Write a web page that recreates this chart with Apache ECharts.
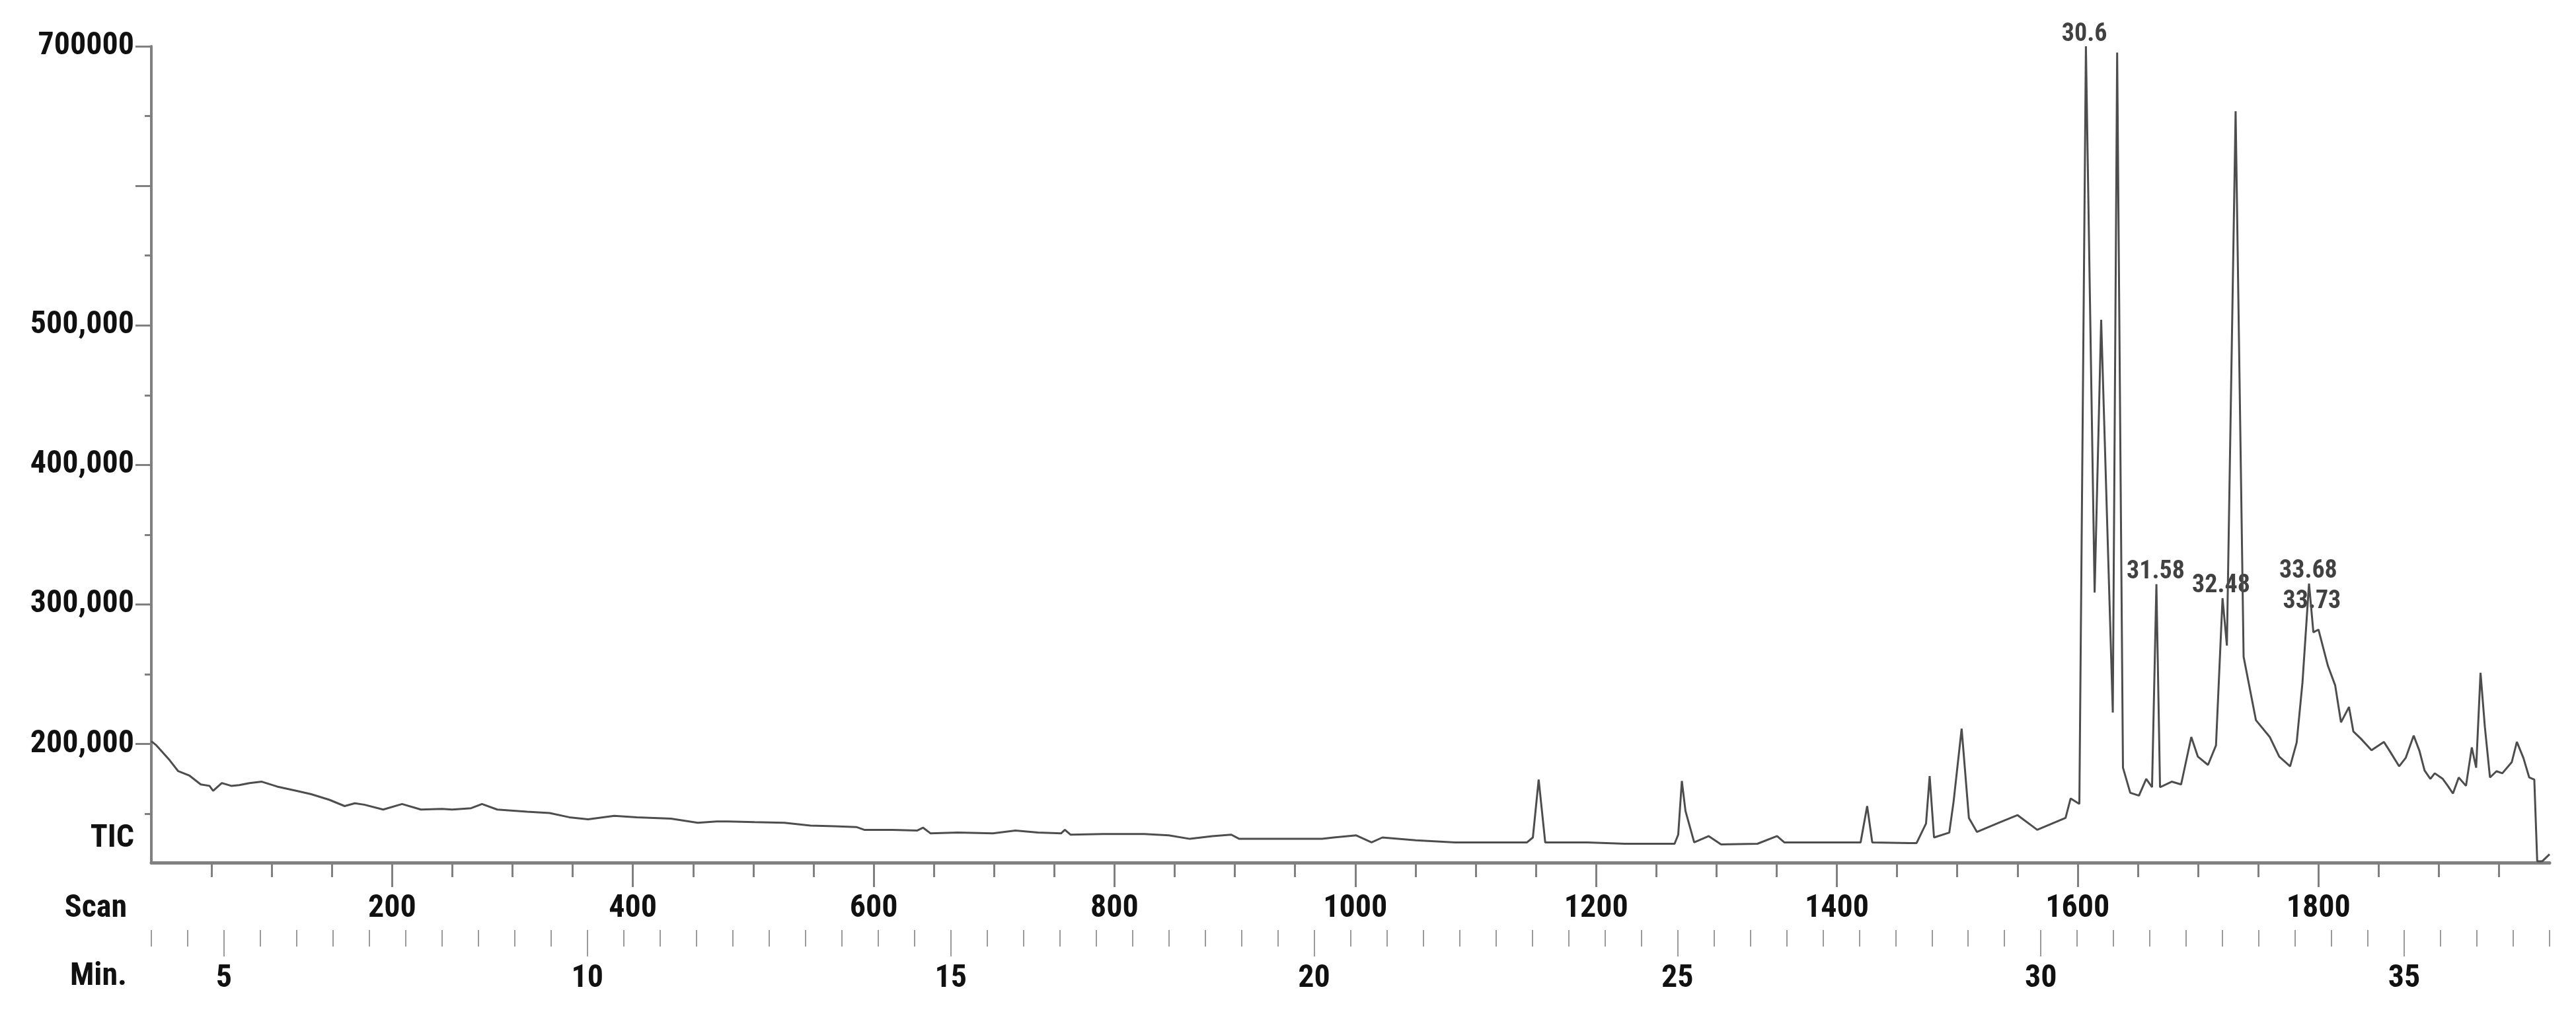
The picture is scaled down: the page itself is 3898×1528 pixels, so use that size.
<!DOCTYPE html>
<html>
<head>
<meta charset="utf-8">
<title>TIC</title>
<script src="https://cdn.jsdelivr.net/npm/echarts@6/dist/echarts.min.js"></script>
<style>
    html, body { margin: 0; padding: 0; background: #fff; }
    #main { width: 3898px; height: 1528px; }
</style>
</head>
<body>
<div id="main"></div>
<script>
// 保留时间 (min) 与 TIC 强度
var retentionMin = [4.00, 4.07, 4.25, 4.37, 4.52, 4.68, 4.80, 4.85, 4.97, 5.10, 5.21, 5.35, 5.52, 5.73, 5.99, 6.20, 6.45, 6.66, 6.80, 6.93,
    7.19, 7.45, 7.71, 8.00, 8.14, 8.40, 8.55, 8.76, 9.17, 9.48, 9.75, 10.01, 10.37, 10.68, 11.15, 11.52, 11.78, 11.93, 12.30, 12.71,
    13.07, 13.40, 13.70, 13.81, 14.20, 14.54, 14.62, 14.72, 15.10, 15.58, 15.89, 16.20, 16.52, 16.57, 16.65, 17.10, 17.66, 18.00, 18.29, 18.60,
    18.86, 18.97, 19.40, 19.75, 20.11, 20.27, 20.58, 20.79, 20.94, 21.40, 21.94, 22.50, 22.93, 23.01, 23.09, 23.18, 23.76, 24.28, 24.96, 25.01,
    25.06, 25.11, 25.23, 25.43, 25.60, 26.10, 26.37, 26.47, 27.00, 27.52, 27.61, 27.68, 28.20, 28.29, 28.42, 28.47, 28.53, 28.74, 28.80, 28.91,
    29.01, 29.12, 29.44, 29.68, 29.95, 30.34, 30.41, 30.53, 30.62, 30.74, 30.83, 30.99, 31.05, 31.13, 31.23, 31.35, 31.45, 31.53, 31.59, 31.64,
    31.80, 31.93, 32.07, 32.16, 32.30, 32.41, 32.50, 32.56, 32.68, 32.79, 32.96, 33.15, 33.28, 33.43, 33.52, 33.60, 33.69, 33.75, 33.82, 33.95,
    34.05, 34.13, 34.24, 34.30, 34.40, 34.55, 34.72, 34.80, 34.93, 35.02, 35.13, 35.21, 35.28, 35.36, 35.42, 35.53, 35.60, 35.67, 35.75, 35.85,
    35.93, 35.99, 36.05, 36.11, 36.18, 36.27, 36.35, 36.48, 36.55, 36.64, 36.72, 36.79, 36.83, 36.90, 37.00];
var ticValues = [202000, 199000, 188500, 180500, 177500, 171000, 170000, 166500, 172000, 170000, 170500, 172000, 173000, 169500, 166500, 164000, 160000, 155500, 157500, 156500,
    153000, 157000, 153000, 153500, 153000, 154000, 157000, 153000, 151500, 150500, 147500, 146000, 148500, 147500, 146500, 143500, 144500, 144500, 144000, 143500,
    141500, 141000, 140500, 138500, 138500, 138000, 140000, 136000, 136500, 136000, 138000, 136500, 136000, 138500, 135000, 135500, 135500, 134500, 132000, 134000,
    135000, 132000, 132000, 132000, 132000, 133000, 134500, 129500, 133000, 131000, 129500, 129500, 129500, 133000, 174500, 129500, 129500, 128500, 128500, 135000,
    173500, 152000, 129500, 134000, 128000, 128500, 134000, 129500, 129500, 129500, 155500, 129500, 129000, 129000, 143000, 177000, 133000, 136500, 159000, 211000,
    147000, 137000, 144000, 149000, 138500, 147000, 161000, 157000, 700000, 308500, 504000, 222500, 695500, 183000, 165000, 163000, 175000, 169000, 314500, 169000,
    173000, 171000, 205000, 191000, 185000, 199000, 304500, 270500, 653500, 262500, 217000, 205000, 191000, 184000, 201000, 244000, 315000, 280000, 282000, 256000,
    242000, 215500, 226500, 209000, 204000, 195500, 201500, 195000, 184000, 190000, 206000, 195000, 181000, 175000, 179000, 175000, 170000, 164500, 176000, 170000,
    197500, 183000, 251000, 212000, 176000, 180500, 179000, 187000, 201500, 190000, 176000, 174500, 116000, 116000, 121000];

// 峰标注
var peakTimes = [30.6, 31.58, 32.48, 33.68, 33.73];
var peakHeights = [700000, 314500, 304500, 315000, 315000];
var peakLabels = ['30.6', '31.58', '32.48', '33.68', '33.73'];

// 刻度
var yLabelValues = [200000, 300000, 400000, 500000, 700000];
var yLabelText = ['200,000', '300,000', '400,000', '500,000', '700000'];
var yMajorTicks = [200000, 300000, 400000, 500000, 600000, 700000];
var yMinorTicks = [150000, 250000, 350000, 450000, 550000, 650000];
var scanMajorTicks = [200, 400, 600, 800, 1000, 1200, 1400, 1600, 1800];
var minMajorTicks = [5, 10, 15, 20, 25, 30, 35];
var minRange = [4, 37];
var scanRange = [0, 1992];
var ticRange = [115000, 700000];

var scanMinorTicks = [];
for (var s = 50; s < scanRange[1]; s += 50) {
    if (s % 200 !== 0) scanMinorTicks.push(s);
}
var minMinorTicks = [];
for (var m = minRange[0]; m <= minRange[1]; m += 0.5) {
    if (m % 5 !== 0) minMinorTicks.push(m);
}

var lineData = [];
for (var i = 0; i < retentionMin.length; i++) {
    lineData.push([retentionMin[i], ticValues[i]]);
}

var belowLabels = ['33.73'];
var peakData = [];
for (var j = 0; j < peakTimes.length; j++) {
    var item = {value: [peakTimes[j], peakHeights[j]], name: peakLabels[j]};
    if (belowLabels.indexOf(peakLabels[j]) >= 0) {
        item.label = {position: 'bottom', distance: 8};
    }
    peakData.push(item);
}

var FONT = "'Roboto Condensed', 'DejaVu Sans Condensed', sans-serif";
var AXIS_GREY = '#808080';
var labelStyle = {color: '#111', fontSize: 48, fontWeight: 'bold', fontFamily: FONT};

function plainNum(v) {
    return String(v);
}

function tickAxis(range, offset, ticks, len, width, color) {
    return {
        type: 'value', min: range[0], max: range[1], position: 'bottom', offset: offset,
        axisLine: {show: false, onZero: false},
        axisTick: {show: true, customValues: ticks, length: len, lineStyle: {color: color, width: width}},
        axisLabel: {show: false},
        splitLine: {show: false}
    };
}

var chart = echarts.init(document.getElementById('main'));
var option = {
    animation: false,
    backgroundColor: '#fff',
    grid: {left: 229, top: 70, width: 3629, height: 1235},
    xAxis: [
        {
            type: 'value', min: minRange[0], max: minRange[1], position: 'bottom',
            axisLine: {show: true, onZero: false, lineStyle: {color: AXIS_GREY, width: 5}},
            axisTick: {show: false},
            axisLabel: {show: false},
            splitLine: {show: false}
        },
        // Scan 主刻度 + 标签
        {
            type: 'value', min: scanRange[0], max: scanRange[1], position: 'bottom',
            axisLine: {show: false, onZero: false},
            axisTick: {show: true, customValues: scanMajorTicks, length: 37, lineStyle: {color: AXIS_GREY, width: 3}},
            axisLabel: Object.assign({customValues: scanMajorTicks, margin: 46, formatter: plainNum}, labelStyle),
            splitLine: {show: false}
        },
        tickAxis(scanRange, 0, scanMinorTicks, 22, 3, AXIS_GREY),
        // Min. 刻度
        tickAxis(minRange, 102, minMinorTicks, 25, 2, '#9a9a9a'),
        {
            type: 'value', min: minRange[0], max: minRange[1], position: 'bottom', offset: 102,
            axisLine: {show: false, onZero: false},
            axisTick: {show: true, customValues: minMajorTicks, length: 40, lineStyle: {color: '#9a9a9a', width: 2}},
            axisLabel: Object.assign({customValues: minMajorTicks, margin: 50, formatter: plainNum}, labelStyle),
            splitLine: {show: false}
        }
    ],
    yAxis: [
        {
            type: 'value', min: ticRange[0], max: ticRange[1], position: 'left',
            axisLine: {show: true, onZero: false, lineStyle: {color: AXIS_GREY, width: 4}},
            axisTick: {show: true, customValues: yMajorTicks, length: 24, lineStyle: {color: AXIS_GREY, width: 3}},
            axisLabel: Object.assign({
                customValues: yLabelValues,
                margin: 26,
                formatter: function (v) {
                    return yLabelText[yLabelValues.indexOf(v)];
                }
            }, labelStyle),
            splitLine: {show: false}
        },
        {
            type: 'value', min: ticRange[0], max: ticRange[1], position: 'left',
            axisLine: {show: false, onZero: false},
            axisTick: {show: true, customValues: yMinorTicks, length: 10, lineStyle: {color: AXIS_GREY, width: 3}},
            axisLabel: {show: false},
            splitLine: {show: false}
        }
    ],
    graphic: [
        {type: 'text', x: 203, y: 1269, style: {text: 'TIC', align: 'right', verticalAlign: 'middle', fill: '#111', font: 'bold 48px ' + FONT}},
        {type: 'text', x: 192, y: 1375, style: {text: 'Scan', align: 'right', verticalAlign: 'middle', fill: '#111', font: 'bold 48px ' + FONT}},
        {type: 'text', x: 192, y: 1478, style: {text: 'Min.', align: 'right', verticalAlign: 'middle', fill: '#111', font: 'bold 48px ' + FONT}}
    ],
    series: [
        {
            name: 'TIC',
            type: 'line',
            xAxisIndex: 0,
            yAxisIndex: 0,
            data: lineData,
            showSymbol: false,
            lineStyle: {color: '#4d4d4d', width: 3}
        },
        {
            name: 'peaks',
            type: 'scatter',
            xAxisIndex: 0,
            yAxisIndex: 0,
            data: peakData,
            symbolSize: 2,
            itemStyle: {color: 'rgba(0,0,0,0)'},
            label: {
                show: true,
                position: 'top',
                distance: -2,
                formatter: '{b}',
                color: '#111',
                fontSize: 38,
                fontWeight: 'bold',
                fontFamily: FONT
            }
        }
    ]
};
chart.setOption(option);
</script>
</body>
</html>
